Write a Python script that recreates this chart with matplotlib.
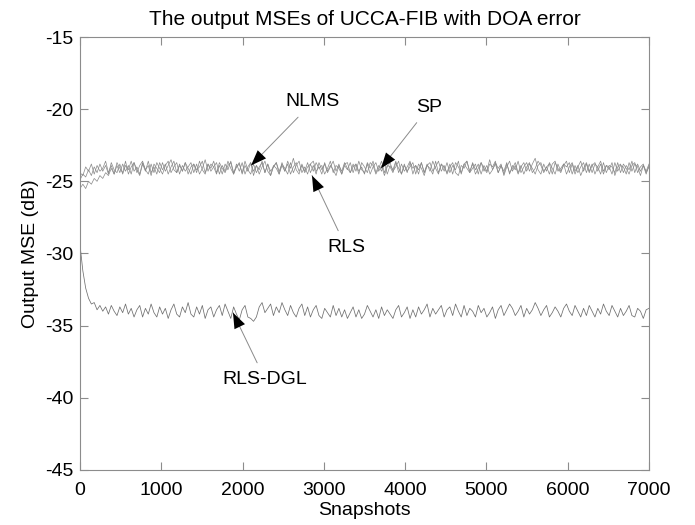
import matplotlib
matplotlib.use('Agg')
import matplotlib.pyplot as plt

# x positions of the plotted samples (snapshots)
snapshots = list(range(0, 7001, 35))

# Output MSE (dB)
nlms = [
    -25.5, -25.2, -25.5, -25.0, -25.2, -24.8, -25.0, -24.6, -24.8, -24.4,
    -24.6, -24.1, -24.5, -23.9, -24.4, -23.8, -24.3, -23.9, -24.5, -23.7,
    -24.2, -24.6, -23.8, -24.3, -23.6, -24.4, -24.0, -24.5, -23.7, -24.2,
    -23.8, -24.5, -24.0, -23.6, -24.4, -23.9, -24.3, -23.7, -24.5, -24.0,
    -23.8, -24.4, -23.6, -24.2, -24.5, -23.8, -24.1, -23.6, -24.4, -23.9,
    -24.5, -23.8, -24.2, -23.6, -24.4, -24.0, -23.7, -24.5, -23.9, -24.3,
    -23.7, -24.6, -23.9, -24.2, -23.6, -24.4, -23.8, -24.3, -24.0, -23.7,
    -24.5, -23.9, -24.3, -23.6, -24.1, -23.4, -24.2, -24.5, -23.8, -24.3,
    -23.7, -24.4, -23.9, -24.5, -23.7, -24.2, -23.8, -24.4, -24.0, -23.6,
    -24.3, -23.8, -24.5, -23.9, -24.2, -23.7, -24.4, -23.8, -24.3, -24.0,
    -24.5, -23.7, -24.1, -23.6, -24.4, -23.9, -24.3, -23.7, -24.5, -23.9,
    -24.2, -23.6, -24.4, -23.8, -24.3, -24.0, -23.6, -24.5, -23.9, -24.2,
    -23.7, -24.4, -23.8, -24.3, -23.6, -24.1, -24.5, -23.8, -24.3, -23.7,
    -24.4, -23.9, -24.2, -23.6, -24.5, -23.8, -24.1, -24.4, -23.7, -24.2,
    -23.8, -24.5, -23.9, -24.3, -23.5, -24.2, -23.8, -24.4, -23.9, -24.3,
    -23.7, -24.5, -23.9, -24.2, -23.6, -24.4, -24.0, -23.7, -24.3, -23.8,
    -23.4, -24.2, -24.5, -23.8, -24.3, -23.7, -24.1, -24.5, -23.8, -24.3,
    -23.9, -23.6, -24.4, -23.8, -24.5, -24.0, -23.6, -24.3, -23.8, -24.4,
    -23.9, -23.7, -24.3, -23.8, -24.5, -23.9, -24.2, -23.7, -24.6, -24.0,
    -23.8, -24.4, -23.9, -24.2, -23.6, -24.4, -23.8, -24.3, -23.9, -24.5, -23.9,
]

rls = [
    -24.9, -24.5, -24.7, -24.2, -24.6, -24.0, -24.4, -23.8, -24.3, -23.9,
    -24.5, -23.7, -24.2, -24.4, -23.8, -24.5, -23.9, -24.2, -23.6, -24.3,
    -24.0, -24.5, -23.7, -24.2, -23.9, -24.6, -23.8, -24.1, -24.4, -23.7,
    -24.3, -23.9, -23.5, -24.2, -24.4, -23.8, -24.3, -23.7, -24.1, -24.5,
    -23.8, -24.2, -24.0, -23.6, -24.4, -23.8, -24.3, -24.0, -23.7, -24.5,
    -23.9, -24.3, -23.6, -24.1, -24.5, -23.8, -24.3, -23.7, -24.5, -24.0,
    -23.7, -24.3, -23.9, -24.5, -24.0, -23.6, -24.3, -24.6, -23.9, -24.1,
    -24.5, -23.7, -24.3, -23.8, -24.5, -24.0, -23.7, -24.3, -23.9, -24.4,
    -24.0, -23.8, -23.6, -24.3, -24.0, -24.5, -23.7, -24.3, -23.9, -24.2,
    -24.6, -23.9, -24.3, -23.7, -24.1, -24.4, -23.8, -24.3, -23.6, -24.2,
    -24.4, -23.8, -24.5, -24.0, -23.7, -24.3, -23.9, -24.6, -24.0, -23.7,
    -24.3, -24.0, -23.6, -24.5, -23.9, -24.3, -24.0, -23.7, -24.5, -23.8,
    -24.1, -24.6, -23.9, -23.7, -24.3, -24.0, -23.6, -24.3, -23.9, -24.5,
    -24.0, -23.7, -24.4, -24.6, -23.9, -24.1, -23.6, -24.3, -23.8, -24.5,
    -24.1, -23.7, -24.3, -23.9, -24.5, -24.2, -23.7, -24.1, -23.8, -24.6,
    -24.0, -23.6, -24.3, -23.9, -24.5, -24.0, -23.7, -24.3, -23.8, -24.1,
    -24.5, -23.9, -23.7, -24.3, -24.0, -24.5, -23.8, -23.6, -24.3, -24.1,
    -23.8, -24.5, -24.0, -23.7, -24.3, -23.9, -24.6, -24.1, -23.7, -24.3,
    -23.8, -24.5, -24.0, -23.6, -24.3, -23.9, -24.0, -24.5, -23.7, -24.3,
    -23.9, -24.0, -24.5, -23.7, -24.3, -23.8, -24.0, -24.6, -23.9, -24.3, -23.8,
]

sp = [
    -24.4, -24.6, -24.0, -24.3, -23.8, -24.5, -23.9, -24.3, -24.1, -23.6,
    -24.4, -23.9, -24.5, -23.7, -24.1, -24.4, -23.6, -24.5, -24.0, -23.7,
    -24.4, -23.9, -23.6, -24.2, -24.5, -23.8, -24.4, -23.7, -24.1, -24.5,
    -23.9, -23.6, -24.4, -24.0, -23.7, -24.5, -23.9, -24.3, -24.0, -23.7,
    -24.4, -23.8, -24.5, -24.1, -23.5, -24.3, -23.8, -24.0, -24.5, -23.7,
    -24.1, -24.4, -23.9, -23.7, -24.5, -24.0, -23.8, -24.4, -23.6, -24.2,
    -24.5, -23.8, -24.4, -24.0, -23.7, -24.4, -23.8, -24.6, -24.0, -23.7,
    -24.3, -23.8, -24.1, -24.5, -23.7, -24.4, -23.9, -23.6, -24.4, -24.0,
    -24.5, -23.8, -24.3, -23.7, -24.1, -23.9, -24.5, -24.1, -23.6, -24.4,
    -23.9, -24.1, -24.5, -23.8, -23.7, -24.4, -24.0, -23.8, -24.5, -23.7,
    -24.0, -24.4, -23.7, -23.9, -24.5, -24.1, -23.6, -24.4, -23.9, -24.0,
    -24.4, -23.7, -24.1, -24.5, -23.8, -24.4, -23.7, -24.1, -23.9, -24.5,
    -23.7, -24.4, -23.9, -24.1, -24.5, -23.6, -24.4, -23.8, -24.0, -24.4,
    -23.8, -24.5, -23.7, -24.0, -24.4, -23.8, -23.6, -24.4, -24.1, -23.8,
    -24.5, -23.7, -24.1, -24.4, -23.8, -24.0, -23.6, -24.4, -23.9, -24.5,
    -23.8, -24.4, -24.1, -23.7, -24.4, -23.9, -24.5, -24.0, -23.7, -24.4,
    -24.1, -23.6, -23.9, -24.4, -24.0, -23.8, -24.5, -23.7, -24.1, -24.4,
    -23.8, -24.0, -23.7, -24.5, -23.9, -24.4, -24.0, -23.7, -24.4, -23.8,
    -24.4, -23.8, -24.0, -24.5, -23.7, -24.4, -23.9, -24.0, -24.4, -23.7,
    -24.4, -23.8, -24.1, -24.5, -23.9, -23.7, -24.4, -24.0, -23.8, -24.4, -24.0,
]

rls_dgl = [
    -29.4, -31.2, -32.4, -33.1, -33.5, -33.4, -33.9, -33.6, -34.0, -33.7,
    -34.2, -33.6, -34.0, -34.3, -33.7, -34.1, -33.5, -34.2, -33.8, -34.4,
    -33.9, -33.6, -34.4, -33.8, -34.2, -33.5, -34.1, -34.4, -33.7, -34.2,
    -33.8, -34.5, -33.9, -33.5, -34.2, -34.4, -33.7, -34.1, -33.4, -34.2,
    -34.4, -33.7, -34.2, -33.6, -34.5, -33.9, -33.7, -34.4, -33.9, -33.6,
    -34.3, -33.5, -34.0, -34.5, -33.7, -34.2, -34.6, -33.9, -33.6, -34.4,
    -34.5, -34.7, -34.4, -33.7, -33.4, -34.1, -33.8, -33.5, -34.3, -33.7,
    -34.1, -33.4, -33.9, -34.3, -33.6, -34.1, -34.4, -33.8, -33.5, -34.3,
    -33.7, -34.4, -33.9, -33.6, -34.3, -34.5, -33.8, -34.1, -34.4, -33.6,
    -34.3, -33.8, -34.4, -33.9, -34.5, -34.1, -33.7, -34.4, -33.9, -34.5,
    -34.2, -33.6, -34.0, -34.4, -33.9, -34.5, -33.7, -34.3, -33.9, -34.2,
    -34.5, -33.9, -33.6, -34.4, -34.1, -33.7, -34.5, -33.9, -34.4, -33.7,
    -34.2, -33.9, -33.5, -34.4, -33.8, -34.2, -33.9, -33.6, -34.4, -33.9,
    -33.7, -34.3, -33.5, -34.0, -34.4, -33.6, -34.3, -33.8, -34.0, -34.4,
    -33.6, -34.1, -33.8, -34.4, -34.1, -33.7, -34.5, -33.9, -33.6, -34.3,
    -33.9, -33.5, -33.8, -34.3, -34.0, -33.6, -34.4, -33.8, -34.2, -33.9,
    -33.4, -33.8, -34.3, -33.9, -33.6, -34.4, -34.1, -33.7, -34.0, -34.4,
    -33.8, -33.5, -34.0, -34.3, -33.6, -34.0, -34.4, -33.8, -34.3, -33.6,
    -34.0, -34.4, -33.8, -34.2, -33.5, -34.0, -34.3, -33.6, -34.0, -34.4,
    -33.8, -34.3, -34.0, -33.6, -34.3, -34.4, -33.8, -34.0, -34.5, -33.9, -33.8,
]

# label text, label position, arrow tip (data coords)
labels = ['NLMS', 'SP', 'RLS', 'RLS-DGL']
label_xy = [(2866, -19.5), (4293, -19.85), (3272, -29.55), (2276, -38.7)]
tip_xy = [(2104, -23.9), (3703, -24.1), (2854, -24.6), (1882, -34.1)]

plt.rcParams['font.family'] = ['Liberation Sans', 'DejaVu Sans']
plt.rcParams['axes.unicode_minus'] = False

fig = plt.figure(figsize=(6.95, 5.25), dpi=100)
ax = fig.add_axes([0.1151, 0.1048, 0.8187, 0.8247])

# upper three curves are lighter, RLS-DGL a bit darker
for series in (nlms, rls, sp):
    ax.plot(snapshots, series, color='#888888', linewidth=0.5)
ax.plot(snapshots, rls_dgl, color='#6f6f6f', linewidth=0.55)

ax.set_xlim(0, 7000)
ax.set_ylim(-45, -15)
ax.set_xticks(range(0, 7001, 1000))
ax.set_yticks(range(-45, -14, 5))

for sp_name in ax.spines:
    ax.spines[sp_name].set_color('#8c8c8c')
    ax.spines[sp_name].set_linewidth(0.8)
ax.tick_params(direction='in', length=6, width=0.8, color='#8c8c8c',
               top=True, right=True, labelsize=14)
ax.tick_params(axis='x', pad=9)
ax.tick_params(axis='y', pad=5)

ax.set_title('The output MSEs of UCCA-FIB with DOA error', fontsize=15, pad=9)
ax.set_xlabel('Snapshots', fontsize=14, labelpad=2)
ax.set_ylabel('Output MSE (dB)', fontsize=14, labelpad=4)

for text, xy_text, xy_tip in zip(labels, label_xy, tip_xy):
    # thin grey leader line from the label to the curve
    ax.annotate(text, xy=xy_tip, xytext=xy_text, fontsize=14,
                ha='center', va='center',
                arrowprops=dict(arrowstyle='-', color='#8a8a8a', linewidth=0.7,
                                shrinkA=4, shrinkB=0))
    # black arrow head at the tip
    ax.annotate('', xy=xy_tip, xytext=xy_text,
                arrowprops=dict(arrowstyle='-|>,head_length=0.8,head_width=0.3',
                                color='black', linewidth=0,
                                shrinkA=0, shrinkB=0, mutation_scale=14))

fig.savefig('out.png', dpi=100)
